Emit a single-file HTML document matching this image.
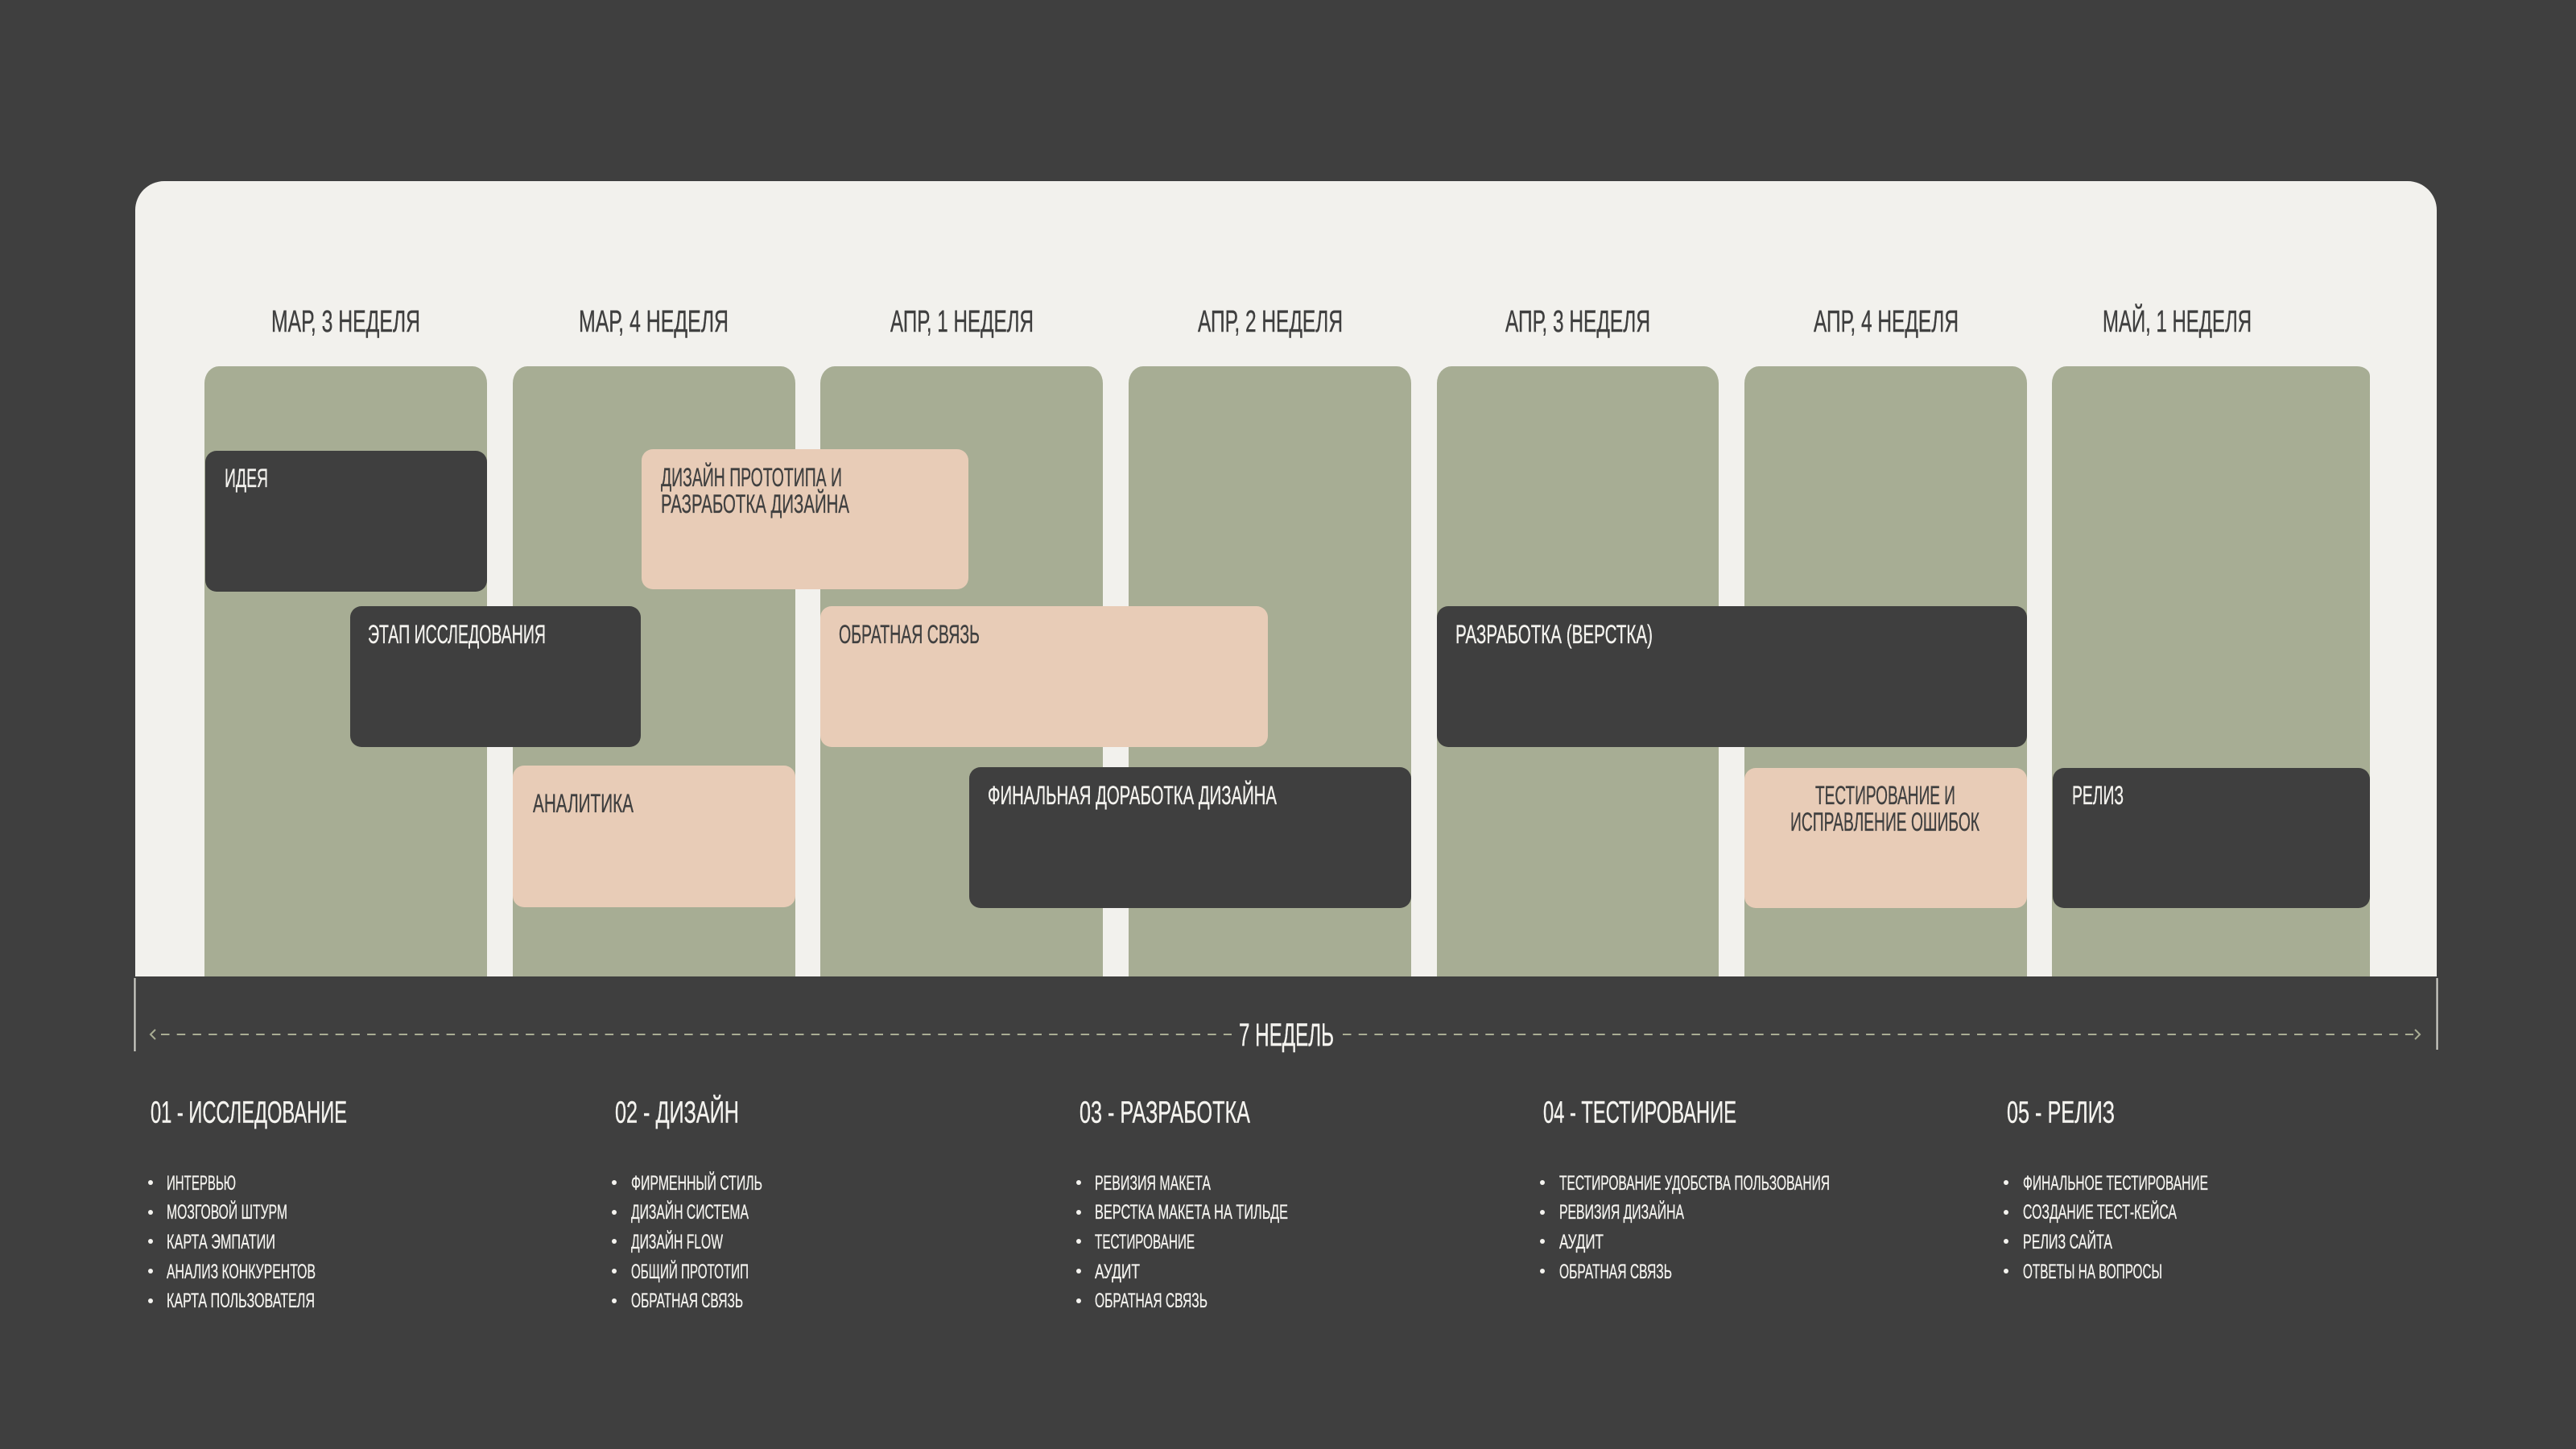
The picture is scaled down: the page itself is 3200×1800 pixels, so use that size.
<!DOCTYPE html>
<html lang="ru">
<head>
<meta charset="utf-8">
<title>7 недель</title>
<style>
html,body{margin:0;padding:0;background:#3f3f3f;width:3200px;height:1800px;overflow:hidden}
svg{display:block}
text{font-family:"Liberation Sans","Noto Sans CJK SC",sans-serif}
.h{font-size:38px;fill:#3f3f3f;stroke:#3f3f3f;stroke-width:.4px}
.l{font-size:32px;fill:#f4f3ef;stroke:#f4f3ef;stroke-width:.35px}
.d{font-size:32px;fill:#3f3f3f;stroke:#3f3f3f;stroke-width:.35px}
.s{font-size:38px;fill:#f4f3ef;stroke:#f4f3ef;stroke-width:.4px}
.i{font-size:25px;fill:#f4f3ef;stroke:#f4f3ef;stroke-width:.3px}
</style>
</head>
<body>
<svg xmlns="http://www.w3.org/2000/svg" width="3200" height="1800" viewBox="0 0 3200 1800">
<rect width="3200" height="1800" fill="#3f3f3f"/>
<path d="M168 1213V261a36 36 0 0 1 36-36H2991a36 36 0 0 1 36 36V1213Z" fill="#f2f1ed"/>

<g fill="#a7ad94">
<path d="M254 1213V476a18 21 0 0 1 18-21H587a18 21 0 0 1 18 21V1213Z"/>
<path d="M637 1213V476a18 21 0 0 1 18-21H970a18 21 0 0 1 18 21V1213Z"/>
<path d="M1019 1213V476a18 21 0 0 1 18-21H1352a18 21 0 0 1 18 21V1213Z"/>
<path d="M1402 1213V476a18 21 0 0 1 18-21H1735a18 21 0 0 1 18 21V1213Z"/>
<path d="M1785 1213V476a18 21 0 0 1 18-21H2117a18 21 0 0 1 18 21V1213Z"/>
<path d="M2167 1213V476a18 21 0 0 1 18-21H2500a18 21 0 0 1 18 21V1213Z"/>
<path d="M2549 1213V476a18 21 0 0 1 18-21H2928a16 12 0 0 1 16 12V1213Z"/>
</g>

<rect x="255" y="560" width="350" height="175" rx="14" fill="#3f3f3f"/>
<rect x="797" y="558" width="406" height="174" rx="14" fill="#e8ccb7"/>
<rect x="435" y="753" width="361" height="175" rx="14" fill="#3f3f3f"/>
<rect x="1019" y="753" width="556" height="175" rx="14" fill="#e8ccb7"/>
<rect x="1785" y="753" width="733" height="175" rx="14" fill="#3f3f3f"/>
<rect x="637" y="951" width="351" height="176" rx="14" fill="#e8ccb7"/>
<rect x="1204" y="953" width="549" height="175" rx="14" fill="#3f3f3f"/>
<rect x="2167" y="954" width="351" height="174" rx="14" fill="#e8ccb7"/>
<rect x="2550" y="954" width="394" height="174" rx="14" fill="#3f3f3f"/>

<text class="h" x="337" y="412" textLength="185" lengthAdjust="spacingAndGlyphs">МАР, 3 НЕДЕЛЯ</text>
<text class="h" x="719" y="412" textLength="186" lengthAdjust="spacingAndGlyphs">МАР, 4 НЕДЕЛЯ</text>
<text class="h" x="1106" y="412" textLength="178" lengthAdjust="spacingAndGlyphs">АПР, 1 НЕДЕЛЯ</text>
<text class="h" x="1488" y="412" textLength="180" lengthAdjust="spacingAndGlyphs">АПР, 2 НЕДЕЛЯ</text>
<text class="h" x="1870" y="412" textLength="180" lengthAdjust="spacingAndGlyphs">АПР, 3 НЕДЕЛЯ</text>
<text class="h" x="2253" y="412" textLength="180" lengthAdjust="spacingAndGlyphs">АПР, 4 НЕДЕЛЯ</text>
<text class="h" x="2612" y="412" textLength="185" lengthAdjust="spacingAndGlyphs">МАЙ, 1 НЕДЕЛЯ</text>

<text class="l" x="279" y="605" textLength="54" lengthAdjust="spacingAndGlyphs">ИДЕЯ</text>
<text class="d" x="821" y="604" textLength="225" lengthAdjust="spacingAndGlyphs">ДИЗАЙН ПРОТОТИПА И</text>
<text class="d" x="821" y="637" textLength="234" lengthAdjust="spacingAndGlyphs">РАЗРАБОТКА ДИЗАЙНА</text>
<text class="l" x="457" y="799" textLength="221" lengthAdjust="spacingAndGlyphs">ЭТАП ИССЛЕДОВАНИЯ</text>
<text class="d" x="1042" y="799" textLength="175" lengthAdjust="spacingAndGlyphs">ОБРАТНАЯ СВЯЗЬ</text>
<text class="l" x="1808" y="799" textLength="245" lengthAdjust="spacingAndGlyphs">РАЗРАБОТКА (ВЕРСТКА)</text>
<text class="d" x="662" y="1009" textLength="125" lengthAdjust="spacingAndGlyphs">АНАЛИТИКА</text>
<text class="l" x="1227" y="999" textLength="359" lengthAdjust="spacingAndGlyphs">ФИНАЛЬНАЯ ДОРАБОТКА ДИЗАЙНА</text>
<text class="d" x="2255" y="999" textLength="174" lengthAdjust="spacingAndGlyphs">ТЕСТИРОВАНИЕ И</text>
<text class="d" x="2224" y="1032" textLength="235" lengthAdjust="spacingAndGlyphs">ИСПРАВЛЕНИЕ ОШИБОК</text>
<text class="l" x="2574" y="999" textLength="64" lengthAdjust="spacingAndGlyphs">РЕЛИЗ</text>

<g stroke="#d8d8d0" stroke-width="2" fill="none">
<path d="M167.500 1215V1306"/>
<path d="M3027.500 1215V1304"/>
</g>
<g stroke="#a9ad94" stroke-width="2" fill="none">
<path d="M200 1285H1530" stroke-dasharray="10.500 9.200"/>
<path d="M1668 1285H2998" stroke-dasharray="10.500 9.200"/>
<path d="M193 1279L187 1285L193 1291"/>
<path d="M3000 1279L3006 1285L3000 1291"/>
</g>
<text x="1539" y="1299" font-size="40" fill="#f4f3ef" stroke="#f4f3ef" stroke-width=".4" textLength="118" lengthAdjust="spacingAndGlyphs">7 НЕДЕЛЬ</text>

<text class="s" x="187" y="1394.500" textLength="244" lengthAdjust="spacingAndGlyphs">01 - ИССЛЕДОВАНИЕ</text>
<text class="s" x="764" y="1394.500" textLength="154" lengthAdjust="spacingAndGlyphs">02 - ДИЗАЙН</text>
<text class="s" x="1341" y="1394.500" textLength="212" lengthAdjust="spacingAndGlyphs">03 - РАЗРАБОТКА</text>
<text class="s" x="1917" y="1394.500" textLength="240" lengthAdjust="spacingAndGlyphs">04 - ТЕСТИРОВАНИЕ</text>
<text class="s" x="2493" y="1394.500" textLength="134" lengthAdjust="spacingAndGlyphs">05 - РЕЛИЗ</text>

<g fill="#f4f3ef">
<circle cx="187" cy="1469" r="3"/><circle cx="187" cy="1506" r="3"/><circle cx="187" cy="1542" r="3"/><circle cx="187" cy="1579" r="3"/><circle cx="187" cy="1616" r="3"/>
<circle cx="763" cy="1469" r="3"/><circle cx="763" cy="1506" r="3"/><circle cx="763" cy="1542" r="3"/><circle cx="763" cy="1579" r="3"/><circle cx="763" cy="1616" r="3"/>
<circle cx="1340" cy="1469" r="3"/><circle cx="1340" cy="1506" r="3"/><circle cx="1340" cy="1542" r="3"/><circle cx="1340" cy="1579" r="3"/><circle cx="1340" cy="1616" r="3"/>
<circle cx="1916" cy="1469" r="3"/><circle cx="1916" cy="1506" r="3"/><circle cx="1916" cy="1542" r="3"/><circle cx="1916" cy="1579" r="3"/>
<circle cx="2492" cy="1469" r="3"/><circle cx="2492" cy="1506" r="3"/><circle cx="2492" cy="1542" r="3"/><circle cx="2492" cy="1579" r="3"/>
</g>

<text class="i" x="207" y="1478" textLength="86" lengthAdjust="spacingAndGlyphs">ИНТЕРВЬЮ</text>
<text class="i" x="207" y="1514" textLength="150" lengthAdjust="spacingAndGlyphs">МОЗГОВОЙ ШТУРМ</text>
<text class="i" x="207" y="1551" textLength="135" lengthAdjust="spacingAndGlyphs">КАРТА ЭМПАТИИ</text>
<text class="i" x="207" y="1588" textLength="185" lengthAdjust="spacingAndGlyphs">АНАЛИЗ КОНКУРЕНТОВ</text>
<text class="i" x="207" y="1624" textLength="184" lengthAdjust="spacingAndGlyphs">КАРТА ПОЛЬЗОВАТЕЛЯ</text>

<text class="i" x="784" y="1478" textLength="163" lengthAdjust="spacingAndGlyphs">ФИРМЕННЫЙ СТИЛЬ</text>
<text class="i" x="784" y="1514" textLength="146" lengthAdjust="spacingAndGlyphs">ДИЗАЙН СИСТЕМА</text>
<text class="i" x="784" y="1551" textLength="114" lengthAdjust="spacingAndGlyphs">ДИЗАЙН FLOW</text>
<text class="i" x="784" y="1588" textLength="146" lengthAdjust="spacingAndGlyphs">ОБЩИЙ ПРОТОТИП</text>
<text class="i" x="784" y="1624" textLength="139" lengthAdjust="spacingAndGlyphs">ОБРАТНАЯ СВЯЗЬ</text>

<text class="i" x="1360" y="1478" textLength="144" lengthAdjust="spacingAndGlyphs">РЕВИЗИЯ МАКЕТА</text>
<text class="i" x="1360" y="1514" textLength="240" lengthAdjust="spacingAndGlyphs">ВЕРСТКА МАКЕТА НА ТИЛЬДЕ</text>
<text class="i" x="1360" y="1551" textLength="124" lengthAdjust="spacingAndGlyphs">ТЕСТИРОВАНИЕ</text>
<text class="i" x="1360" y="1588" textLength="56" lengthAdjust="spacingAndGlyphs">АУДИТ</text>
<text class="i" x="1360" y="1624" textLength="140" lengthAdjust="spacingAndGlyphs">ОБРАТНАЯ СВЯЗЬ</text>

<text class="i" x="1937" y="1478" textLength="336" lengthAdjust="spacingAndGlyphs">ТЕСТИРОВАНИЕ УДОБСТВА ПОЛЬЗОВАНИЯ</text>
<text class="i" x="1937" y="1514" textLength="155" lengthAdjust="spacingAndGlyphs">РЕВИЗИЯ ДИЗАЙНА</text>
<text class="i" x="1937" y="1551" textLength="55" lengthAdjust="spacingAndGlyphs">АУДИТ</text>
<text class="i" x="1937" y="1588" textLength="140" lengthAdjust="spacingAndGlyphs">ОБРАТНАЯ СВЯЗЬ</text>

<text class="i" x="2513" y="1478" textLength="230" lengthAdjust="spacingAndGlyphs">ФИНАЛЬНОЕ ТЕСТИРОВАНИЕ</text>
<text class="i" x="2513" y="1514" textLength="191" lengthAdjust="spacingAndGlyphs">СОЗДАНИЕ ТЕСТ-КЕЙСА</text>
<text class="i" x="2513" y="1551" textLength="111" lengthAdjust="spacingAndGlyphs">РЕЛИЗ САЙТА</text>
<text class="i" x="2513" y="1588" textLength="173" lengthAdjust="spacingAndGlyphs">ОТВЕТЫ НА ВОПРОСЫ</text>
</svg>
</body>
</html>
